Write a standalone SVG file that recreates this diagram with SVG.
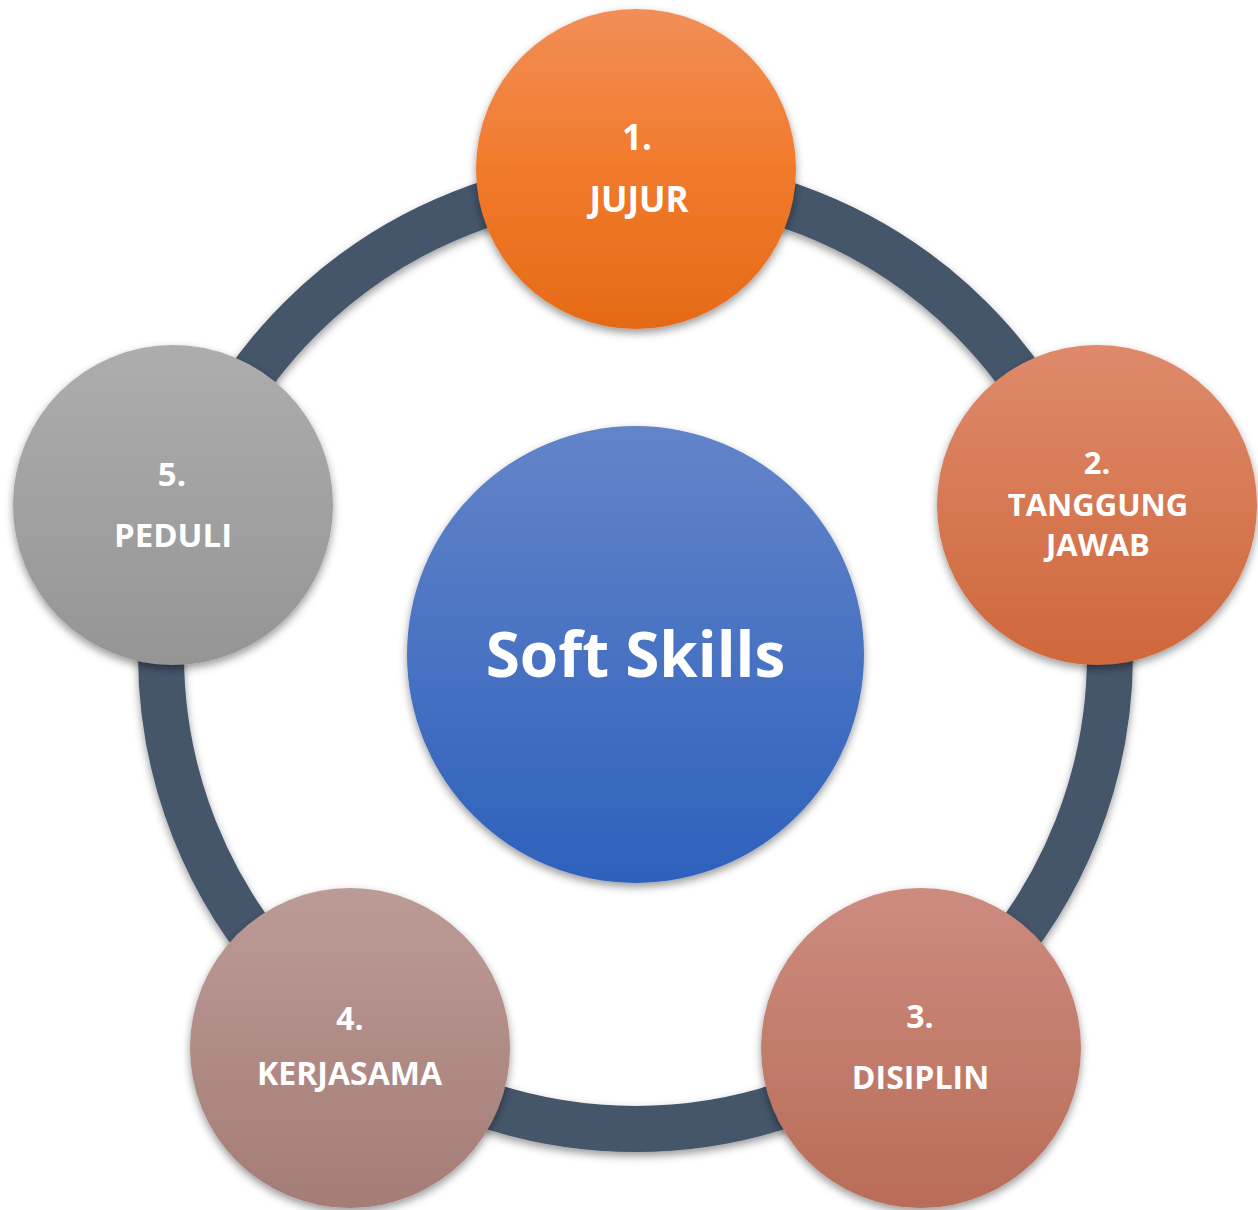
<svg xmlns="http://www.w3.org/2000/svg" width="1258" height="1210" viewBox="0 0 1258 1210">
  <style>
    .lbl { font-family: "Open Sans", "Noto Sans", "Liberation Sans", sans-serif; font-weight: 700; fill: #FFFFFF; text-anchor: middle; }
    .node { font-size: 33px; }
    .title { font-size: 62px; }
  </style>
  <defs>
    <filter id="shadow" x="-20%" y="-20%" width="140%" height="145%">
      <feDropShadow dx="0" dy="4" stdDeviation="4" flood-color="#000000" flood-opacity="0.4"/>
    </filter>
    <linearGradient id="gCenter" x1="0" y1="0" x2="0" y2="1">
      <stop offset="0" stop-color="#6384C9"/>
      <stop offset="1" stop-color="#2D61BC"/>
    </linearGradient>
    <linearGradient id="g1" x1="0" y1="0" x2="0" y2="1">
      <stop offset="0" stop-color="#F18E57"/>
      <stop offset="0.5" stop-color="#F17A2B"/>
      <stop offset="1" stop-color="#E56A17"/>
    </linearGradient>
    <linearGradient id="g2" x1="0" y1="0" x2="0" y2="1">
      <stop offset="0" stop-color="#DE8A6B"/>
      <stop offset="1" stop-color="#CF673B"/>
    </linearGradient>
    <linearGradient id="g3" x1="0" y1="0" x2="0" y2="1">
      <stop offset="0" stop-color="#CC8C7F"/>
      <stop offset="1" stop-color="#B96C58"/>
    </linearGradient>
    <linearGradient id="g4" x1="0" y1="0" x2="0" y2="1">
      <stop offset="0" stop-color="#BB9B97"/>
      <stop offset="1" stop-color="#A57C76"/>
    </linearGradient>
    <linearGradient id="g5" x1="0" y1="0" x2="0" y2="1">
      <stop offset="0" stop-color="#ADADAD"/>
      <stop offset="1" stop-color="#959595"/>
    </linearGradient>
  </defs>
  <rect x="0" y="0" width="1258" height="1210" fill="#FFFFFF"/>

  <g id="connectors">
    <circle cx="635.5" cy="654.5" r="474.5" fill="none" stroke="#44546A" stroke-width="46" filter="url(#shadow)"/>
  </g>

  <g id="center">
    <circle cx="635.5" cy="654.5" r="228.5" fill="url(#gCenter)" filter="url(#shadow)"/>
    <text class="lbl title" x="635.5" y="677">Soft Skills</text>
  </g>

  <g id="node1">
    <circle cx="636" cy="169" r="160" fill="url(#g1)" filter="url(#shadow)"/>
    <text class="lbl" style="font-size:35px" x="637" y="150">1.</text>
    <text class="lbl" style="font-size:35px" x="639" y="212">JUJUR</text>
  </g>

  <g id="node2">
    <circle cx="1097" cy="505" r="160" fill="url(#g2)" filter="url(#shadow)"/>
    <text class="lbl" style="font-size:31px" x="1097" y="474">2.</text>
    <text class="lbl" style="font-size:31px" x="1098" y="516">TANGGUNG</text>
    <text class="lbl" style="font-size:31px" x="1098" y="556">JAWAB</text>
  </g>

  <g id="node3">
    <circle cx="921" cy="1048" r="160" fill="url(#g3)" filter="url(#shadow)"/>
    <text class="lbl" style="font-size:32px" x="920" y="1028">3.</text>
    <text class="lbl" style="font-size:32px" x="920.5" y="1089">DISIPLIN</text>
  </g>

  <g id="node4">
    <circle cx="350" cy="1048" r="160" fill="url(#g4)" filter="url(#shadow)"/>
    <text class="lbl" style="font-size:32px" x="350" y="1030">4.</text>
    <text class="lbl" style="font-size:32px" x="349.5" y="1085">KERJASAMA</text>
  </g>

  <g id="node5">
    <circle cx="173" cy="505" r="160" fill="url(#g5)" filter="url(#shadow)"/>
    <text class="lbl" style="font-size:33px" x="172" y="486">5.</text>
    <text class="lbl" style="font-size:33px" x="173" y="547">PEDULI</text>
  </g>
</svg>
